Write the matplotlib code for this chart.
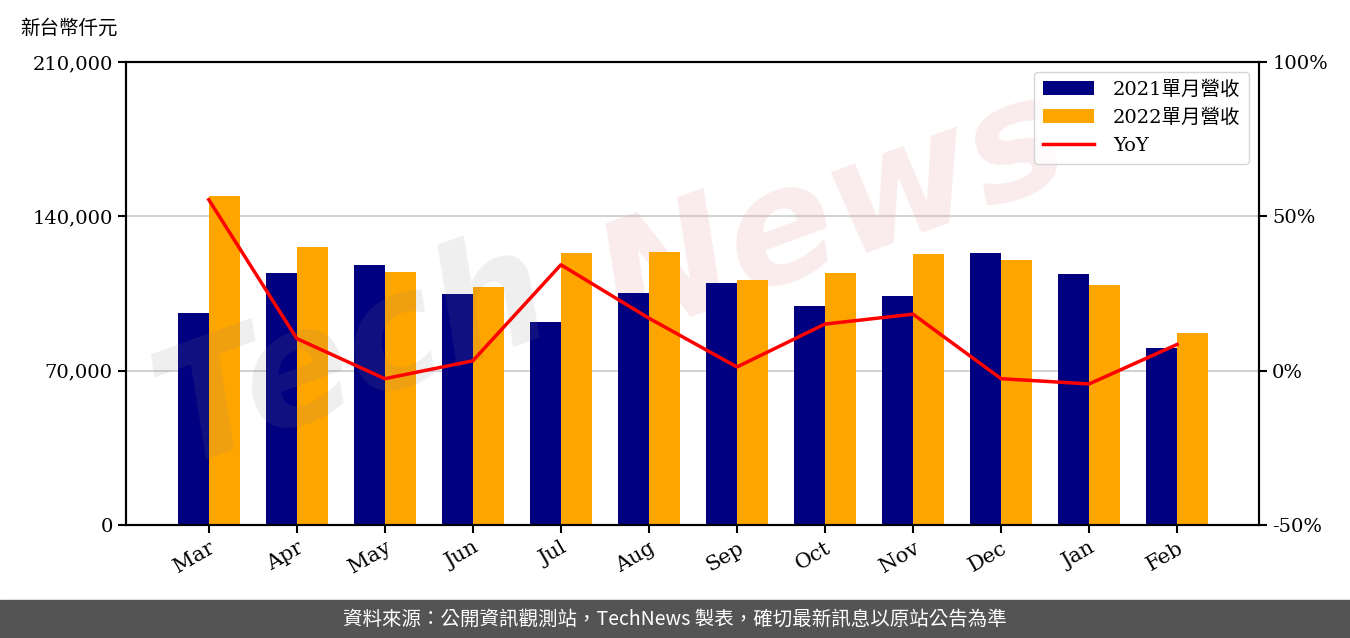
import matplotlib
matplotlib.use('Agg')
import matplotlib.pyplot as plt
import numpy as np
from matplotlib.ticker import FuncFormatter

months = ['Mar', 'Apr', 'May', 'Jun', 'Jul', 'Aug', 'Sep', 'Oct', 'Nov', 'Dec', 'Jan', 'Feb']
rev_2021 = [96200, 114300, 117900, 104800, 92100, 105200, 109800, 99300, 103900, 123400, 113800, 80300]
rev_2022 = [149200, 126100, 114700, 107900, 123400, 123800, 111100, 114300, 122900, 120200, 108900, 87100]
yoy = [55.4, 10.4, -2.6, 3.2, 34.3, 17.0, 1.2, 15.1, 18.3, -2.6, -4.3, 8.5]

fam = ['DejaVu Serif', 'Noto Sans CJK TC']
plt.rcParams['font.family'] = fam

fig = plt.figure(figsize=(13.5, 6.38), dpi=100)
ax1 = fig.add_axes([126/1350, 1-525/638, (1259-126)/1350, (525-62)/638])
ax2 = ax1.twinx()

x = np.arange(len(months))
w = 0.35
ax1.bar(x - w/2, rev_2021, w, color='#000080', label='2021單月營收', zorder=2)
ax1.bar(x + w/2, rev_2022, w, color='#FFA500', label='2022單月營收', zorder=2)
ln, = ax2.plot(x, yoy, color='red', lw=2.5, label='YoY', zorder=3)

ax1.set_ylim(0, 210000)
ax1.set_yticks([0, 70000, 140000, 210000])
ax1.yaxis.set_major_formatter(FuncFormatter(lambda v, p: '{:,.0f}'.format(v)))
ax1.grid(axis='y', color='#d3d3d3', lw=1.5, zorder=0)
ax1.set_axisbelow(True)
ax1.set_xlim(-0.94, 11.93)
ax1.set_xticks(x)
ax1.set_xticklabels(months, rotation=30, ha='right', rotation_mode='anchor', fontsize=15)

ax2.set_ylim(-50, 100)
ax2.set_yticks([-50, 0, 50, 100])
ax2.yaxis.set_major_formatter(FuncFormatter(lambda v, p: '{:.0f}%'.format(v)))

for a in (ax1, ax2):
    a.tick_params(axis='y', labelsize=14)
    a.tick_params(width=1.5, length=6)
    for s in a.spines.values():
        s.set_linewidth(1.5)

# watermark
ax1.text(0.01, 0.06, 'Tech', transform=ax1.transAxes, fontsize=115, fontstyle='italic',
         fontweight='bold', family='DejaVu Sans', color='#808080', alpha=0.13,
         rotation=20, ha='left', va='bottom', zorder=4)
ax1.text(0.40, 0.33, 'News', transform=ax1.transAxes, fontsize=115, fontstyle='italic',
         fontweight='bold', family='DejaVu Sans', color='#e8a0a0', alpha=0.2,
         rotation=20, ha='left', va='bottom', zorder=1)

h1, l1 = ax1.get_legend_handles_labels()
leg = ax2.legend(h1 + [ln], l1 + ['YoY'], loc='upper right',
                 prop={'family': fam, 'size': 14}, handlelength=2.6,
                 borderpad=0.45, labelspacing=0.5, handletextpad=1.0)

fig.text(20/1350, 1-28/638, '新台幣仟元', fontsize=14, family=['Noto Sans CJK TC'],
         ha='left', va='center')

fig.patches.append(plt.Rectangle((0, 0), 1, 38/638, transform=fig.transFigure,
                                 color='#545454', zorder=0))
fig.text(0.5, 19/638, '資料來源：公開資訊觀測站，TechNews 製表，確切最新訊息以原站公告為準',
         color='white', fontsize=14, family=['Noto Sans CJK TC'], ha='center', va='center')

fig.savefig('out.png', dpi=100)
